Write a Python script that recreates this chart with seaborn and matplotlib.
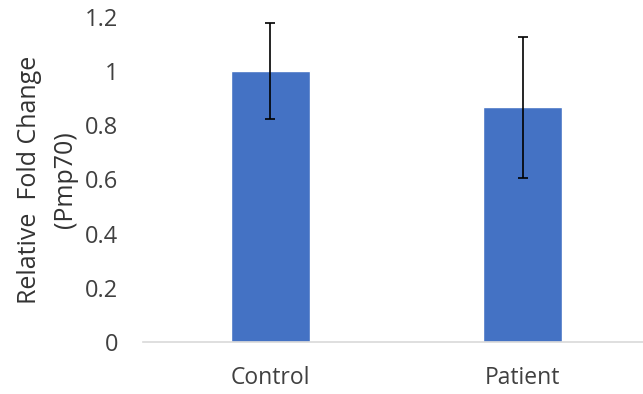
import matplotlib
matplotlib.use('Agg')
import matplotlib.pyplot as plt
import seaborn as sns
import pandas as pd

# valores
grupos = ['Control', 'Patient']
fold_change = [1.0, 0.866]
erro = [0.176, 0.261]
yticks = [0, 0.2, 0.4, 0.6, 0.8, 1.0, 1.2]
ytick_labels = ['0', '0.2', '0.4', '0.6', '0.8', '1', '1.2']

df = pd.DataFrame({'Grupo': grupos, 'Fold': fold_change, 'Erro': erro})

sns.set_style('white')
plt.rcParams['font.family'] = ['Open Sans', 'DejaVu Sans']

fig = plt.figure(figsize=(6.43, 3.94), dpi=100)
ax = fig.add_axes([143 / 643, 1 - 342.3 / 394, 500 / 643, (342.3 - 16.7) / 394])

sns.barplot(data=df, x='Grupo', y='Fold', color='#4472C4', width=0.313,
            errorbar=None, saturation=1, ax=ax)

# barras de erro
ax.errorbar(x=range(len(df)), y=df['Fold'], yerr=df['Erro'], fmt='none',
            ecolor='black', elinewidth=1.2, capsize=3.6, capthick=1.2)

ax.set_xlim(-0.503, 1.477)
ax.set_ylim(0, 1.2)
ax.set_yticks(yticks)
ax.set_yticklabels(ytick_labels)
ax.set_xlabel('')
ax.set_ylabel('Relative  Fold Change\n(Pmp70)', fontsize=18, color='#333333',
              linespacing=1.6)
ax.yaxis.set_label_coords(-0.13, 0.5)

ax.tick_params(axis='y', length=0, pad=18, labelsize=17, labelcolor='#404040')
ax.tick_params(axis='x', length=0, pad=17, labelsize=16.5, labelcolor='#404040')

for lado in ['left', 'right', 'top']:
    ax.spines[lado].set_visible(False)
ax.spines['bottom'].set_color('#D9D9D9')
ax.spines['bottom'].set_linewidth(1.2)

fig.savefig('out.png', dpi=100)
plt.close()
